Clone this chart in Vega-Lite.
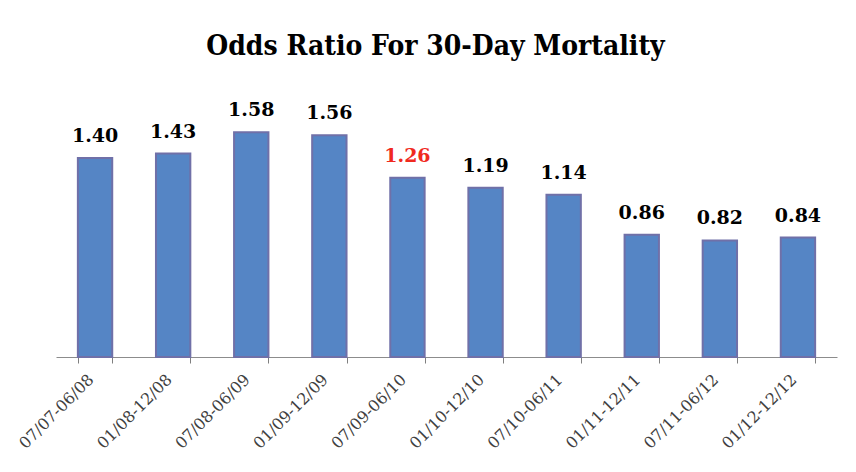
{
  "$schema": "https://vega.github.io/schema/vega-lite/v6.json",
  "width": 781,
  "height": 256,
  "autosize": {"type": "none"},
  "padding": {"left": 56, "top": 101, "right": 19, "bottom": 115},
  "background": "white",
  "title": {
    "text": "Odds Ratio For 30-Day Mortality",
    "font": "DejaVu Serif Condensed, Liberation Serif, serif",
    "fontSize": 28,
    "fontWeight": "bold",
    "color": "#000000",
    "anchor": "middle",
    "frame": "group",
    "baseline": "alphabetic",
    "offset": 18,
    "dx": -11
  },
  "data": {
    "values": [
      {"period": "07/07-06/08", "value": 1.40},
      {"period": "01/08-12/08", "value": 1.43},
      {"period": "07/08-06/09", "value": 1.58},
      {"period": "01/09-12/09", "value": 1.56},
      {"period": "07/09-06/10", "value": 1.26},
      {"period": "01/10-12/10", "value": 1.19},
      {"period": "07/10-06/11", "value": 1.14},
      {"period": "01/11-12/11", "value": 0.86},
      {"period": "07/11-06/12", "value": 0.82},
      {"period": "01/12-12/12", "value": 0.84}
    ]
  },
  "encoding": {
    "x": {
      "field": "period",
      "type": "nominal",
      "sort": null,
      "scale": {"paddingInner": 0.56, "paddingOuter": 0.28},
      "axis": {
        "title": null,
        "labelAngle": -45,
        "labelFont": "DejaVu Serif",
        "labelFontSize": 16,
        "labelColor": "#404040",
        "labelPadding": 8,
        "labelOffset": -10,
        "tickBand": "extent",
        "ticks": true,
        "tickSize": 6,
        "tickWidth": 1,
        "tickColor": "#7f7f7f",
        "domainColor": "#8c8c8c",
        "domainWidth": 1
      }
    },
    "y": {
      "field": "value",
      "type": "quantitative",
      "scale": {"domain": [0, 1.8]},
      "axis": null
    }
  },
  "layer": [
    {
      "mark": {"type": "bar", "fill": "#5585C5", "stroke": "#7070A8", "strokeWidth": 2}
    },
    {
      "mark": {
        "type": "text",
        "baseline": "bottom",
        "dy": -12,
        "font": "DejaVu Serif",
        "fontSize": 19,
        "fontWeight": "bold"
      },
      "encoding": {
        "text": {"field": "value", "type": "quantitative", "format": ".2f"},
        "color": {
          "condition": {"test": "datum.value === 1.26", "value": "#F02A1E"},
          "value": "#000000"
        }
      }
    }
  ],
  "config": {"view": {"stroke": null}}
}
